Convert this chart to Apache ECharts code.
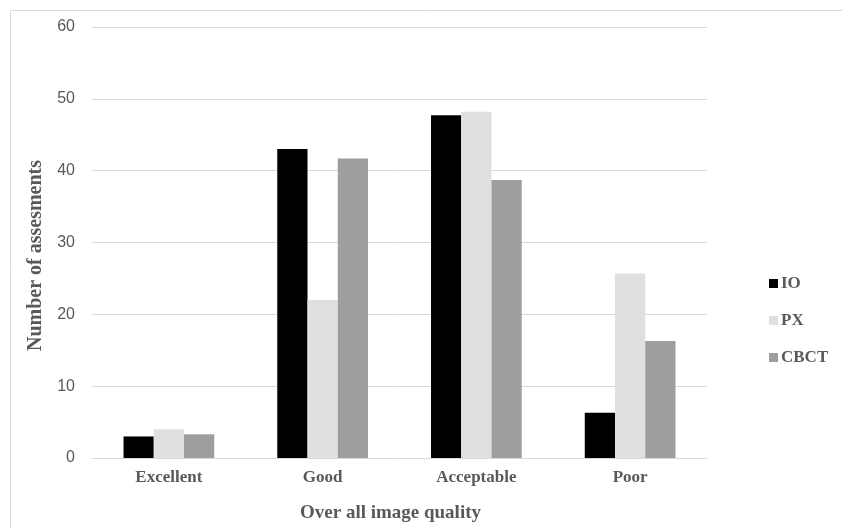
<!DOCTYPE html>
<html><head><meta charset="utf-8">
<script src="https://cdn.jsdelivr.net/npm/echarts@6/dist/echarts.min.js"></script>
<style>html,body{margin:0;padding:0;background:#fff}#c{width:842px;height:528px}</style>
</head><body><div id="c"></div>
<script>
const categories = ['Excellent', 'Good', 'Acceptable', 'Poor'];
const seriesNames = ['IO', 'PX', 'CBCT'];
const ioValues = [3, 43, 47.7, 6.3];
const pxValues = [4, 22, 48.2, 25.7];
const cbctValues = [3.3, 41.7, 38.7, 16.3];
const yTicks = [0, 10, 20, 30, 40, 50, 60];

const colors = ['#000000', '#e0e0e0', '#9e9e9e'];
const serif = '"Liberation Serif", "Times New Roman", serif';
const sans = '"Liberation Sans Narrow", "Liberation Sans", Arial, sans-serif';
const chart = echarts.init(document.getElementById('c'));
const values = [ioValues, pxValues, cbctValues];
chart.setOption({
  animation: false,
  backgroundColor: '#fff',
  graphic: [{type: 'rect', shape: {x: 10.5, y: 10.5, width: 840, height: 520}, style: {fill: 'none', stroke: '#d9d9d9', lineWidth: 1}}],
  grid: {left: 92, right: 135, top: 27, bottom: 70, containLabel: false},
  legend: {
    orient: 'vertical', left: 764, top: 270, itemGap: 20, itemWidth: 9, itemHeight: 9,
    icon: 'rect',
    textStyle: {fontFamily: serif, fontWeight: 'bold', fontSize: 17, color: '#595959', padding: [0, 0, 0, -2]},
    data: seriesNames
  },
  xAxis: {
    type: 'category', data: categories,
    axisLine: {lineStyle: {color: '#d9d9d9', width: 1}},
    axisTick: {show: false},
    axisLabel: {fontFamily: serif, fontWeight: 'bold', fontSize: 17, color: '#595959', margin: 11},
    name: 'Over all image quality', nameLocation: 'middle', nameGap: 46,
    nameTextStyle: {fontFamily: serif, fontWeight: 'bold', fontSize: 19, color: '#595959', padding: [0, 18, 0, 0]}
  },
  yAxis: {
    type: 'value', min: yTicks[0], max: yTicks[yTicks.length - 1], interval: 10,
    axisLine: {show: false}, axisTick: {show: false},
    splitLine: {lineStyle: {color: '#d9d9d9', width: 1}},
    axisLabel: {fontFamily: sans, fontSize: 16, color: '#595959', margin: 17},
    name: 'Number of assesments', nameLocation: 'middle', nameGap: 46, nameRotate: 90,
    nameTextStyle: {fontFamily: serif, fontWeight: 'bold', fontSize: 20, color: '#595959', padding: [0, 26, 0, 0]}
  },
  series: seriesNames.map((n, i) => ({
    name: n, type: 'bar', data: values[i], barGap: '0%', barCategoryGap: '41%',
    itemStyle: {color: colors[i]}
  }))
});
</script></body></html>
